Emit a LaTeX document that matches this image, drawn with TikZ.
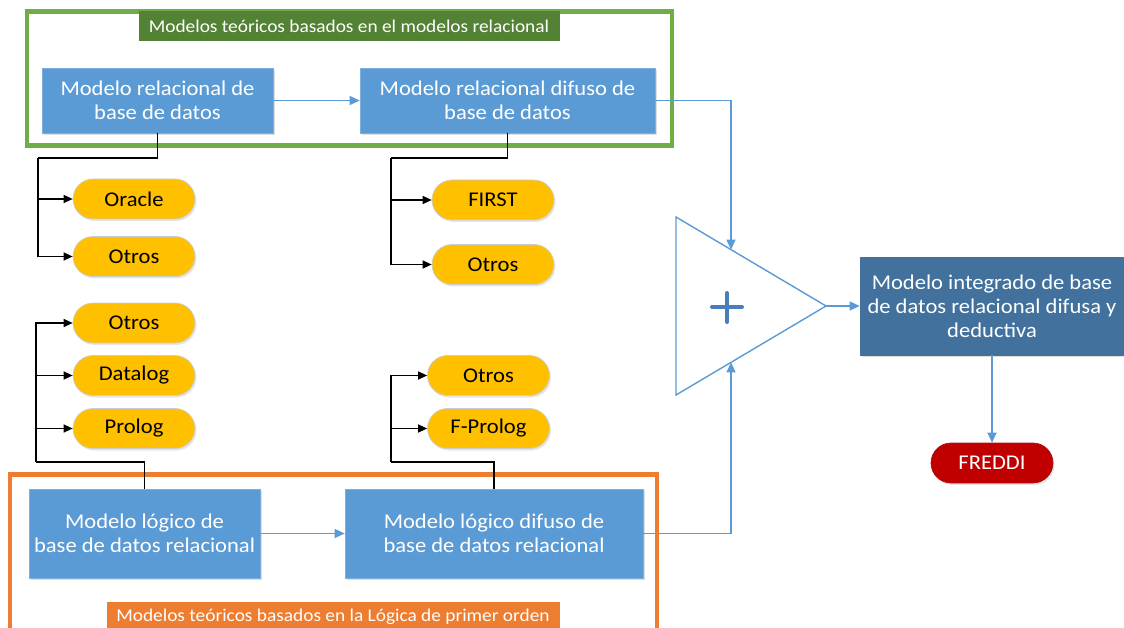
\documentclass[tikz,border=0pt]{standalone}
\usepackage{fontspec}
\setmainfont{Carlito}[FakeStretch=1.075]
\usetikzlibrary{arrows.meta,calc,shadows}

\definecolor{boxblue}{HTML}{5B9BD5}
\definecolor{boxedge}{HTML}{7EAEDB}
\definecolor{darkblue}{HTML}{41719C}
\definecolor{linkblue}{HTML}{5B9BD5}
\definecolor{plusblue}{HTML}{4A7EBB}
\definecolor{pillgold}{HTML}{FFC000}
\definecolor{pilledge}{HTML}{CACDD4}
\definecolor{frame green}{HTML}{70AD47}
\definecolor{tag green}{HTML}{548235}
\definecolor{frame orange}{HTML}{ED7D31}
\definecolor{redpill}{HTML}{C00000}

\tikzset{
  modelbox/.style={fill=boxblue, draw=boxedge, line width=0.6pt, text=white,
    align=center, inner sep=0pt,
    font=\fontsize{21}{24}\selectfont,
    drop shadow={opacity=0.25, shadow xshift=1.5pt, shadow yshift=-2pt}},
  toolpill/.style={fill=pillgold, draw=pilledge, line width=0.7pt,
    rounded corners=20pt, minimum width=122pt, minimum height=40pt,
    inner sep=0pt, font=\fontsize{21}{24}\selectfont,
    drop shadow={opacity=0.2, shadow xshift=1.5pt, shadow yshift=-2pt}},
  tagbox/.style={text=white, inner sep=0pt, minimum width=421pt,
    minimum height=30pt, font=\fontsize{18}{20}\selectfont},
  frame/.style={line width=4.5pt},
  treelink/.style={draw=black, line width=1.3pt,
    -{Triangle[length=9pt,width=8pt]}},
  treeline/.style={draw=black, line width=1.3pt},
  flowlink/.style={draw=linkblue, line width=1.3pt,
    -{Triangle[length=10pt,width=9pt]}},
}

\begin{document}
\begin{tikzpicture}[x=1pt,y=-1pt]
\useasboundingbox (0,0) rectangle (1124,628);
\clip (0,0) rectangle (1124,628);
\fill[white] (0,0) rectangle (1124,628);

% group frames
\draw[frame, draw=frame green] (27,11.5) rectangle (672,145.5);
\draw[frame, draw=frame orange] (10,474.5) rectangle (657,660);

% group captions
\node[tagbox, fill=tag green] (tagrel) at (349,26)
  {Modelos teóricos basados en el modelos relacional};
\node[tagbox, fill=frame orange, minimum width=453pt] (taglog) at (333,617)
  {Modelos teóricos basados en la Lógica de primer orden};

% model boxes
\node[modelbox, minimum width=231pt, minimum height=65pt] (b1) at (157.5,100.5)
  {Modelo relacional de\\base de datos};
\node[modelbox, minimum width=295pt, minimum height=65pt] (b2) at (507.5,100.5)
  {Modelo relacional difuso de\\base de datos};
\node[modelbox, minimum width=231pt, minimum height=89pt] (b3) at (144.5,533.5)
  {Modelo lógico de\\base de datos relacional};
\node[modelbox, minimum width=298pt, minimum height=89pt] (b4) at (494,533.5)
  {Modelo lógico difuso de\\base de datos relacional};
\node[modelbox, fill=darkblue, draw=darkblue, minimum width=264pt,
  minimum height=98pt] (b5) at (992,306)
  {Modelo integrado de base\\de datos relacional difusa y\\deductiva};

% implementations
\node[toolpill] (oracle)  at (134,199)   {Oracle};
\node[toolpill] (otrosA)  at (134,256.5) {Otros};
\node[toolpill] (otrosB)  at (134,323)   {Otros};
\node[toolpill] (datalog) at (134,375.5) {Datalog};
\node[toolpill] (prolog)  at (134,428.5) {Prolog};
\node[toolpill] (first)   at (493,200)   {FIRST};
\node[toolpill] (otrosC)  at (493,264.5) {Otros};
\node[toolpill] (otrosD)  at (488.5,375.5) {Otros};
\node[toolpill] (fprolog) at (488.5,428.5) {F-Prolog};
\node[toolpill, fill=redpill, draw={rgb,255:red,170;green,20;blue,20},
  text=white] (freddi) at (992,463) {FREDDI};

% combining triangle
\coordinate (tA) at (676,217);
\coordinate (tB) at (676,395);
\coordinate (tC) at (826,306);
\draw[draw=linkblue, line width=1.4pt, line join=miter] (tA) -- (tC) -- (tB) -- cycle;
\draw[draw=plusblue, line width=4pt, line cap=round]
  (712,307) -- (742,307) (727,293) -- (727,322);
\coordinate (inA) at ($(tA)!0.3667!(tC)$);
\coordinate (inB) at ($(tB)!0.3667!(tC)$);

% tree connectors
\coordinate (t1) at (38,158);
\coordinate (t2) at (391,158);
\coordinate (t3) at (36,462);
\coordinate (t4) at (391,462);
\draw[treeline] (b1.south) |- (t1);
\draw[treelink] (t1) |- (oracle.west);
\draw[treelink] (t1) |- (otrosA.west);
\draw[treeline] (b2.south) |- (t2);
\draw[treelink] (t2) |- (first.west);
\draw[treelink] (t2) |- (otrosC.west);
\draw[treeline] (b3.north) |- (t3);
\draw[treelink] (t3) |- (otrosB.west);
\draw[treelink] (t3) |- (datalog.west);
\draw[treelink] (t3) |- (prolog.west);
\draw[treeline] (b4.north) |- (t4);
\draw[treelink] (t4) |- (otrosD.west);
\draw[treelink] (t4) |- (fprolog.west);

% flow connectors
\draw[flowlink] (b1) -- (b2);
\draw[flowlink] (b3) -- (b4);
\draw[flowlink] (b2.east) -| (inA);
\draw[flowlink] (b4.east) -| (inB);
\draw[flowlink] (tC) -- (b5.west);
\draw[flowlink] (b5.south) -- (freddi.north);
\end{tikzpicture}
\end{document}
